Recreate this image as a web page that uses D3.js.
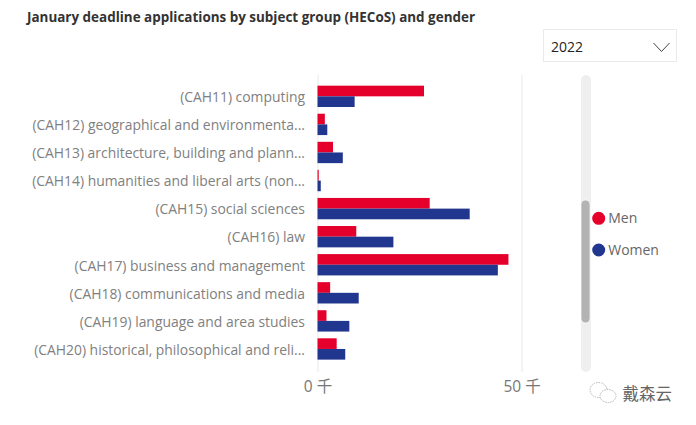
<!DOCTYPE html>
<html>
<head>
<meta charset="utf-8">
<script src="https://cdnjs.cloudflare.com/ajax/libs/d3/7.8.5/d3.min.js"></script>
<style>
  html, body { margin: 0; padding: 0; background: #fff; overflow: hidden; }
  text { font-family: "Open Sans", "Noto Sans CJK SC", sans-serif; }
</style>
</head>
<body>
<script>
// values (thousands)
const categories = [
  "(CAH11) computing",
  "(CAH12) geographical and environmenta...",
  "(CAH13) architecture, building and plann...",
  "(CAH14) humanities and liberal arts (non...",
  "(CAH15) social sciences",
  "(CAH16) law",
  "(CAH17) business and management",
  "(CAH18) communications and media",
  "(CAH19) language and area studies",
  "(CAH20) historical, philosophical and reli..."
];
const men = [26.1, 1.8, 3.8, 0.3, 27.5, 9.5, 46.8, 3.1, 2.2, 4.7];
const women = [9.1, 2.4, 6.2, 0.8, 37.3, 18.6, 44.2, 10.1, 7.8, 6.8];
const seriesNames = ["Men", "Women"];
const seriesColors = ["#e4002b", "#21368f"];
const xTicks = [0, 50];

const w = 696;
const h = 425;

const svg = d3.select("body")
  .append("svg")
    .attr("width", w)
    .attr("height", h)
    .style("display", "block");

svg.append("rect")
    .attr("width", w)
    .attr("height", h)
    .attr("fill", "#fff");

// title
svg.append("text")
    .attr("x", 27)
    .attr("y", 22)
    .attr("font-size", 13.45)
    .attr("font-weight", 700)
    .attr("fill", "#333")
    .text("January deadline applications by subject group (HECoS) and gender");

// scales
const xScale = d3.scaleLinear()
    .domain([0, 50])
    .range([317.5, 521.5]);

const yScale = d3.scaleBand()
    .domain(categories)
    .range([82.3, 363])
    .paddingInner(0.24)
    .paddingOuter(0.12);

const barH = yScale.bandwidth() / 2;

// axes
const xAxis = d3.axisBottom(xScale)
    .tickValues(xTicks)
    .tickSize(-297)
    .tickFormat(d => d + " 千");

const gx = svg.append("g")
    .attr("transform", "translate(0, 372)")
    .call(xAxis);
gx.select(".domain").remove();
gx.selectAll("line").attr("stroke", "#e8e8e8");
gx.selectAll("text")
    .attr("y", 9)
    .attr("font-size", 15.5)
    .attr("fill", "#777");

const yAxis = d3.axisLeft(yScale)
    .tickSize(0)
    .tickPadding(12);

const gy = svg.append("g")
    .attr("transform", "translate(317, 1.3)")
    .call(yAxis);
gy.select(".domain").remove();
gy.selectAll("text")
    .attr("font-size", 13.9)
    .attr("fill", "#808080");

// bars
[men, women].forEach((values, s) => {
  svg.append("g")
    .selectAll("rect")
    .data(values)
    .enter().append("rect")
      .attr("x", xScale(0))
      .attr("y", (d, i) => yScale(categories[i]) + s * barH)
      .attr("width", d => xScale(d) - xScale(0))
      .attr("height", barH)
      .attr("fill", seriesColors[s]);
});

// dropdown
svg.append("rect")
    .attr("x", 543.5)
    .attr("y", 29.5)
    .attr("width", 133)
    .attr("height", 32)
    .attr("fill", "#fff")
    .attr("stroke", "#eaeaea");
svg.append("text")
    .attr("x", 551)
    .attr("y", 52)
    .attr("font-size", 14)
    .attr("fill", "#252423")
    .text("2022");
svg.append("path")
    .attr("d", d3.line()([[653.5, 43], [661.5, 51.5], [669.5, 43]]))
    .attr("fill", "none")
    .attr("stroke", "#444");

// scrollbar
svg.append("rect")
    .attr("x", 581)
    .attr("y", 75)
    .attr("width", 10)
    .attr("height", 297)
    .attr("rx", 5)
    .attr("fill", "#efefef");
svg.append("rect")
    .attr("x", 581)
    .attr("y", 200)
    .attr("width", 9)
    .attr("height", 123)
    .attr("rx", 4.5)
    .attr("fill", "#b3b3b3")
    .attr("stroke", "#fff")
    .attr("stroke-width", 0.7);

// legend
const legend = svg.append("g")
  .selectAll("g")
  .data(seriesNames)
  .enter().append("g")
    .attr("transform", (d, i) => `translate(598.7, ${218.3 + i * 31.7})`);
legend.append("circle")
    .attr("r", 6.5)
    .attr("fill", (d, i) => seriesColors[i]);
legend.append("text")
    .attr("x", 9.5)
    .attr("y", 5)
    .attr("font-size", 14)
    .attr("fill", "#666")
    .text(d => d);

// watermark
const mark = svg.append("g")
    .attr("fill", "#fff")
    .attr("stroke", "#999")
    .attr("stroke-width", 0.7)
    .attr("stroke-dasharray", "1.5 1");
mark.append("ellipse")
    .attr("cx", 598.5).attr("cy", 390).attr("rx", 8.5).attr("ry", 7.5);
mark.append("ellipse")
    .attr("cx", 608).attr("cy", 396).attr("rx", 8).attr("ry", 6.5);
svg.append("text")
    .attr("x", 622.5)
    .attr("y", 400)
    .attr("font-size", 16.5)
    .attr("fill", "#666")
    .style("font-family", "'Noto Sans CJK SC'")
    .text("戴森云");
</script>
</body>
</html>
